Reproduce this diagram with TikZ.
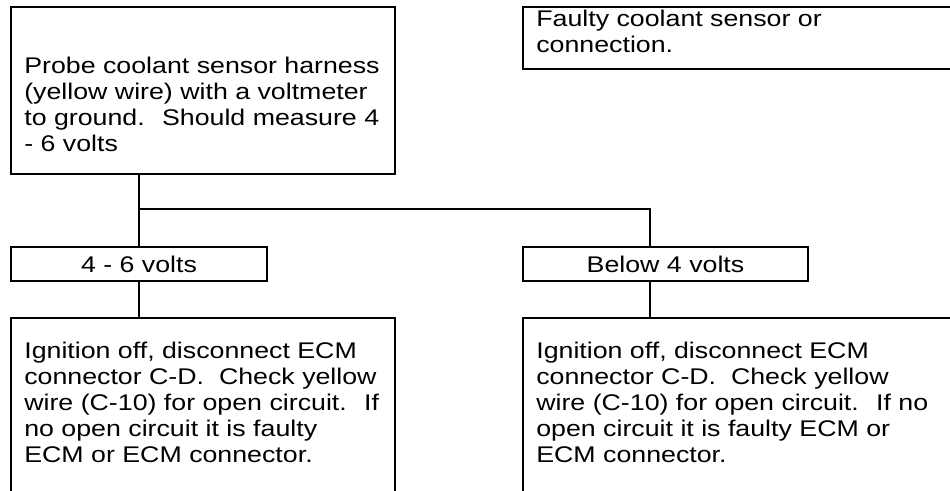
\documentclass[tikz,border=0pt]{standalone}
\usepackage{fontspec}
\setmainfont{Liberation Sans}[FakeStretch=1.18]
\usetikzlibrary{positioning}
\hfuzz=50pt
\hbadness=10000

\newcommand{\celltext}[4]{\parbox[c][#1][t]{#2}{\vspace*{#3}\raggedright\strut #4}}

\begin{document}
\begin{tikzpicture}[x=0.75pt,y=-0.75pt,line width=1.5pt,
    every node/.style={font=\fontsize{17pt}{19.5pt}\selectfont},
    cell/.style={draw,line width=1.5pt,inner xsep=10pt,inner ysep=0pt,anchor=north west},
    answer/.style={draw,line width=1.5pt,inner sep=0pt,anchor=north west,minimum height=25.5pt}]
    \useasboundingbox (0,0) rectangle (950,491);
    \clip (0,0) rectangle (950,491);

    \node[cell] (probe) at (10,6) {\celltext{125.25pt}{268pt}{35.9pt}{Probe coolant sensor harness\\(yellow wire) with a voltmeter\\to ground.~ Should measure 4\\- 6 volts}};
    \node[cell] (faulty) at (522,6) {\celltext{46.5pt}{338.5pt}{0.8pt}{Faulty coolant sensor or\\connection.}};

    \node[answer,minimum width=192pt] (ok) at (10,246) {4 - 6 volts};
    \node[answer,minimum width=213.75pt] (below) at (522,246) {Below 4 volts};

    \node[cell] (okfix) at (10,317) {\celltext{152.25pt}{268pt}{17pt}{Ignition off, disconnect ECM\\connector C-D.~ Check yellow\\wire (C-10) for open circuit.~ If\\no open circuit it is faulty\\ECM or ECM connector.}};
    \node[cell] (belowfix) at (522,317) {\celltext{152.25pt}{338.5pt}{17pt}{Ignition off, disconnect ECM\\connector C-D.~ Check yellow\\wire (C-10) for open circuit.~ If no\\open circuit it is faulty ECM or\\ECM connector.}};

    \coordinate (split) at (138,209);
    \coordinate (turn) at (650,209);

    \draw (probe.south -| ok.north) -- (ok.north);
    \draw (split) -- (turn) -- (below.north -| turn);
    \draw (ok.south) -- (okfix.north -| ok.south);
    \draw (below.south -| turn) -- (belowfix.north -| turn);
\end{tikzpicture}
\end{document}
